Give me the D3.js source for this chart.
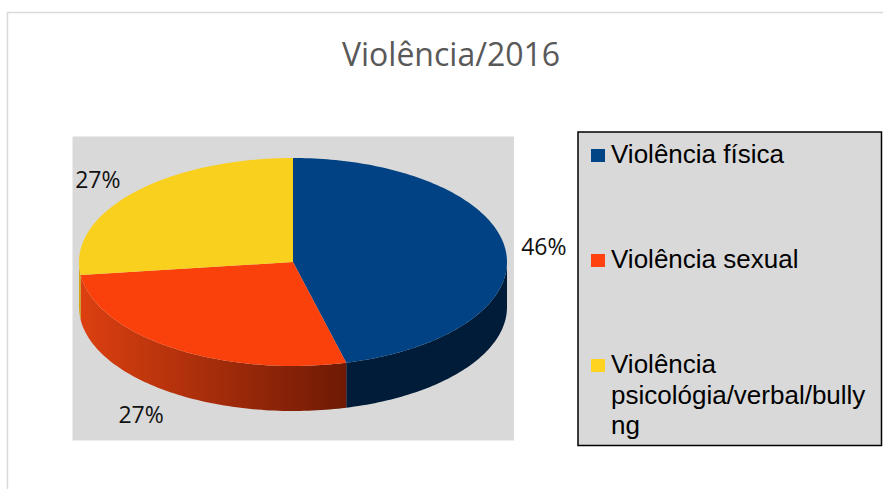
<!DOCTYPE html>
<html>
<head>
<meta charset="utf-8">
<script src="https://cdn.jsdelivr.net/npm/d3@7"></script>
<style>
    body { margin: 0; background: #fff; }
    svg { display: block; }
</style>
</head>
<body>
<div id="chart"></div>
<script>
const TITLE = 'Violência/2016';
const categories = ['Violência física', 'Violência sexual', 'Violência psicológia/verbal/bullyng'];
const values = [46, 27, 27];
const topColors = ['#004283', '#fa410c', '#fad01f'];
const legendColors = ['#004586', '#ff420e', '#ffd320'];

const PieChart3D = {
    init() {
        this.render();
    },

    // point on the tilted pie rim, angle measured clockwise from 12 o'clock
    rim(t, dr = 0, dy = 0) {
        return [this.cx + (this.rx + dr) * Math.sin(t), this.cy - (this.ry + dr) * Math.cos(t) + dy];
    },

    sampleAngles(a0, a1) {
        const n = Math.max(2, Math.ceil((a1 - a0) / 0.02));
        return d3.range(n + 1).map(i => a0 + (a1 - a0) * i / n);
    },

    wrapText(text, maxWidth, measure) {
        const lines = [];
        let line = '';
        text.split(' ').forEach(word => {
            const test = line ? line + ' ' + word : word;
            if (measure(test) <= maxWidth) {
                line = test;
                return;
            }
            if (line) lines.push(line);
            line = '';
            // break long words character by character
            for (const ch of word) {
                if (measure(line + ch) > maxWidth && line) {
                    lines.push(line);
                    line = ch;
                } else {
                    line += ch;
                }
            }
        });
        if (line) lines.push(line);
        return lines;
    },

    render() {
        const width = 883, height = 489;
        this.cx = 293; this.cy = 262;
        this.rx = 214; this.ry = 104;
        const depth = 45;

        const svg = d3.select('#chart')
            .append('svg')
            .attr('width', width)
            .attr('height', height);

        const defs = svg.append('defs');
        const grad = defs.append('linearGradient')
            .attr('id', 'side-orange')
            .attr('gradientUnits', 'userSpaceOnUse')
            .attr('x1', this.cx - this.rx).attr('x2', this.cx + 63)
            .attr('y1', 0).attr('y2', 0);
        grad.append('stop').attr('offset', '0%').attr('stop-color', '#dd4010');
        grad.append('stop').attr('offset', '100%').attr('stop-color', '#6a1804');

        const gradY = defs.append('linearGradient')
            .attr('id', 'side-yellow')
            .attr('x1', 0).attr('x2', 1).attr('y1', 0).attr('y2', 0);
        gradY.append('stop').attr('offset', '0%').attr('stop-color', '#d9ae12');
        gradY.append('stop').attr('offset', '100%').attr('stop-color', '#c89c0e');

        const sideFills = ['#001c38', 'url(#side-orange)', 'url(#side-yellow)'];

        // chart frame
        svg.append('rect')
            .attr('x', 7.5).attr('y', 12.5)
            .attr('width', 900).attr('height', 500)
            .attr('fill', '#fff')
            .attr('stroke', '#d9d9d9')
            .attr('stroke-width', 1.5);

        svg.append('text')
            .attr('x', 451)
            .attr('y', 66)
            .attr('text-anchor', 'middle')
            .style('font-family', '"Open Sans", sans-serif')
            .style('font-size', '32px')
            .style('fill', '#595959')
            .text(TITLE);

        // plot area
        svg.append('rect')
            .attr('x', 72.5).attr('y', 136.5)
            .attr('width', 441.5).attr('height', 304)
            .attr('fill', '#d9d9d9');

        const pie = d3.pie().sort(null).startAngle(0).endAngle(2 * Math.PI);
        const arcs = pie(values);
        const line = d3.line();

        // side walls (front half only)
        const sides = svg.append('g');
        arcs.forEach((a, i) => {
            const s0 = Math.max(a.startAngle, Math.PI / 2);
            const s1 = Math.min(a.endAngle, 3 * Math.PI / 2);
            if (s1 <= s0) return;
            const ts = this.sampleAngles(s0, s1);
            const pts = ts.map(t => this.rim(t))
                .concat(ts.slice().reverse().map(t => this.rim(t, 0, depth)));
            sides.append('path')
                .attr('d', line(pts) + 'Z')
                .attr('fill', sideFills[i]);
        });

        // top faces
        const tops = svg.append('g');
        arcs.forEach((a, i) => {
            const pts = [[this.cx, this.cy]].concat(this.sampleAngles(a.startAngle, a.endAngle).map(t => this.rim(t)));
            tops.append('path')
                .attr('d', line(pts) + 'Z')
                .attr('fill', topColors[i]);
        });

        // percentage labels
        const total = d3.sum(values);
        const fmt = d3.format('.0%');
        const cap = 16.5;
        svg.append('g').selectAll('text')
            .data(arcs)
            .enter()
            .append('text')
            .each(function (a) {
                const t = (a.startAngle + a.endAngle) / 2;
                const front = Math.cos(t) < 0;
                const p = PieChart3D.rim(t, 16, front ? depth : 0);
                d3.select(this)
                    .attr('x', p[0])
                    .attr('y', p[1] + cap * 0.5 - Math.cos(t) * cap * 0.3 + (front ? 4 : 0))
                    .attr('text-anchor', Math.sin(t) >= 0 ? 'start' : 'end');
            })
            .style('font-family', '"Open Sans", sans-serif')
            .style('font-size', '23px')
            .style('fill', '#111')
            .text(a => fmt(a.data / total));

        // legend
        const legend = svg.append('g');
        legend.append('rect')
            .attr('x', 578).attr('y', 132)
            .attr('width', 303.5).attr('height', 313.5)
            .attr('fill', '#d9d9d9')
            .attr('stroke', '#000')
            .attr('stroke-width', 1.5);

        const rowY = d3.scaleLinear().domain([0, categories.length - 1]).range([163, 373]);
        const measurer = legend.append('text')
            .style('font-family', '"Liberation Sans", Arial, sans-serif')
            .style('font-size', '26px');
        const measure = s => measurer.text(s).node().getComputedTextLength();

        categories.forEach((c, i) => {
            const y = rowY(i);
            legend.append('rect')
                .attr('x', 591).attr('y', y - 14)
                .attr('width', 14).attr('height', 13)
                .attr('fill', legendColors[i]);
            const lines = this.wrapText(c, 262, measure);
            const txt = legend.append('text')
                .attr('x', 611)
                .attr('y', y)
                .style('font-family', '"Liberation Sans", Arial, sans-serif')
                .style('font-size', '26px')
                .style('fill', '#000');
            lines.forEach((l, k) => {
                txt.append('tspan')
                    .attr('x', 611)
                    .attr('y', y + k * 30.5)
                    .text(l);
            });
        });
        measurer.remove();
    }
};

document.addEventListener('DOMContentLoaded', () => {
    PieChart3D.init();
});
</script>
</body>
</html>
